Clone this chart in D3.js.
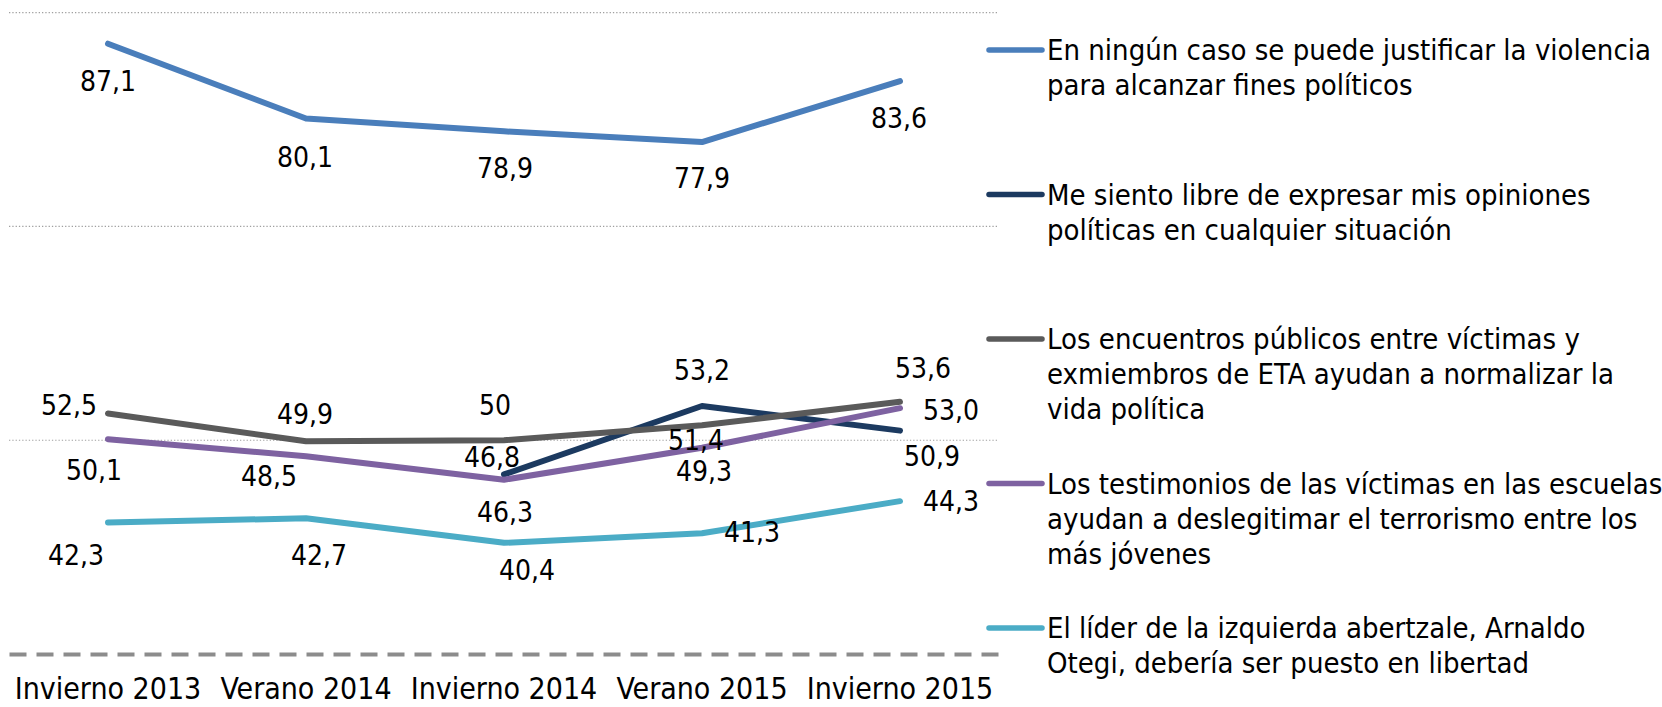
<!DOCTYPE html>
<html>
<head>
<meta charset="utf-8">
<script src="https://cdn.jsdelivr.net/npm/d3@7"></script>
<style>
  body { margin: 0; background: #fff; }
  text { font-family: "DejaVu Sans Condensed", "DejaVu Sans", sans-serif; font-stretch: condensed; fill: #000; }
</style>
</head>
<body>
<script>
// data
var categories = ["Invierno 2013", "Verano 2014", "Invierno 2014", "Verano 2015", "Invierno 2015"];

var violencia   = [87.1, 80.1, 78.9, 77.9, 83.6];
var libre       = [null, null, 46.8, 53.2, 50.9];
var encuentros  = [52.5, 49.9, 50, 51.4, 53.6];
var testimonios = [50.1, 48.5, 46.3, 49.3, 53.0];
var otegi       = [42.3, 42.7, 40.4, 41.3, 44.3];

var seriesNames = [
    ["En ningún caso se puede justificar la violencia", "para alcanzar fines políticos"],
    ["Me siento libre de expresar mis opiniones", "políticas en cualquier situación"],
    ["Los encuentros públicos entre víctimas y", "exmiembros de ETA ayudan a normalizar la", "vida política"],
    ["Los testimonios de las víctimas en las escuelas", "ayudan a deslegitimar el terrorismo entre los", "más jóvenes"],
    ["El líder de la izquierda abertzale, Arnaldo", "Otegi, debería ser puesto en libertad"]
];

var gridValues = [50, 70, 90];

// styling
var colors = ["#4a7ebb", "#1c3a60", "#5a5a5a", "#7e62a1", "#4bacc6"];
var decimals = [[1, 1, 1, 1, 1], [1, 1, 1, 1, 1], [1, 1, 0, 1, 1], [1, 1, 1, 1, 1], [1, 1, 1, 1, 1]];
// label centre offset from its point, [dx, dy]
var labelOffsets = [
    [[0, 37], [-1, 38], [1, 37], [0, 36], [-1, 37]],
    [null, null, [-12, -18], [0, -36], [32, 25]],
    [[-39, -9], [-1, -27], [-9, -35], [-6, 15], [23, -34]],
    [[-14, 31], [-37, 20], [1, 32], [2, 23], [51, 2]],
    [[-32, 32], [13, 37], [23, 27], [50, -1], [51, 0]]
];

var allSeries = [violencia, libre, encuentros, testimonios, otegi];

var width = 1662, height = 707;

var svg = d3.select("body").append("svg")
    .attr("width", width)
    .attr("height", height);

var x = d3.scaleBand()
    .domain(categories)
    .range([9, 999])
    .padding(0);

function cx(c) { return x(c) + x.bandwidth() / 2; }

var y = d3.scaleLinear()
    .domain([30, 90])
    .range([654, 12.7]);

// dotted gridlines
svg.selectAll("line.grid")
    .data(gridValues)
    .enter()
    .append("line")
    .attr("class", "grid")
    .attr("x1", 9)
    .attr("x2", 999)
    .attr("y1", function (d) { return y(d); })
    .attr("y2", function (d) { return y(d); })
    .attr("stroke", "#a0a0a0")
    .attr("stroke-width", 1.2)
    .attr("stroke-dasharray", "1.3,2");

// category axis
var xAxis = svg.append("g")
    .attr("transform", "translate(0," + y(30) + ")")
    .call(d3.axisBottom(x).tickSize(0));

xAxis.select(".domain")
    .attr("stroke", "#8c8c8c")
    .attr("stroke-width", 4)
    .attr("stroke-dasharray", "17,10");

xAxis.selectAll("text")
    .attr("y", 45)
    .attr("dy", 0)
    .style("font-size", "30px")
    .style("font-family", "'DejaVu Sans Condensed', 'DejaVu Sans', sans-serif");

// lines
var line = d3.line()
    .defined(function (d) { return d.v != null; })
    .x(function (d) { return cx(d.c); })
    .y(function (d) { return y(d.v); });

var seriesData = allSeries.map(function (vals, i) {
    return vals.map(function (v, j) {
        return { c: categories[j], v: v, s: i, j: j };
    });
});

svg.selectAll("path.series")
    .data(seriesData)
    .enter()
    .append("path")
    .attr("class", "series")
    .attr("d", line)
    .attr("fill", "none")
    .attr("stroke", function (d, i) { return colors[i]; })
    .attr("stroke-width", 6)
    .attr("stroke-linecap", "round")
    .attr("stroke-linejoin", "round");

// data labels
var fmt = function (v, dec) {
    return d3.format("." + dec + "f")(v).replace(".", ",");
};

var labelData = [];
seriesData.forEach(function (s) {
    s.forEach(function (d) {
        if (d.v != null) labelData.push(d);
    });
});

svg.selectAll("text.lbl")
    .data(labelData)
    .enter()
    .append("text")
    .attr("class", "lbl")
    .attr("text-anchor", "middle")
    .attr("x", function (d) { return cx(d.c) + labelOffsets[d.s][d.j][0]; })
    .attr("y", function (d) { return y(d.v) + labelOffsets[d.s][d.j][1]; })
    .attr("dy", "0.36em")
    .style("font-size", "28px")
    .text(function (d) { return fmt(d.v, decimals[d.s][d.j]); });

// legend
var legend = svg.append("g")
    .attr("transform", "translate(987, 50)");

var items = legend.selectAll("g.item")
    .data(seriesNames)
    .enter()
    .append("g")
    .attr("class", "item")
    .attr("transform", function (d, i) { return "translate(0," + (i * 144.5) + ")"; });

items.append("line")
    .attr("x1", 2)
    .attr("x2", 55)
    .attr("y1", 0)
    .attr("y2", 0)
    .attr("stroke", function (d, i) { return colors[i]; })
    .attr("stroke-width", 5.5)
    .attr("stroke-linecap", "round");

items.append("text")
    .attr("x", 60)
    .attr("y", 0)
    .style("font-size", "29px")
    .selectAll("tspan")
    .data(function (d) { return d; })
    .enter()
    .append("tspan")
    .attr("x", 60)
    .attr("y", function (d, k) { return k * 35; })
    .attr("dy", "0.36em")
    .text(function (d) { return d; });
</script>
</body>
</html>
